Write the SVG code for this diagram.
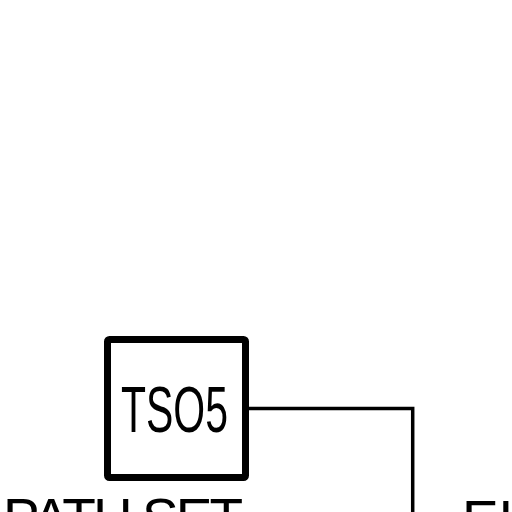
<svg xmlns="http://www.w3.org/2000/svg" width="512" height="512" viewBox="0 0 512 512">
<style>
.box{fill:#fff;stroke:#000;stroke-width:7;stroke-linejoin:round}
.lbl{font-family:"Liberation Sans",Arial,sans-serif;fill:#000}
.wire{fill:none;stroke:#000;stroke-width:3.5;stroke-linejoin:miter}
</style>
<rect width="512" height="512" fill="#fff"/>
<g id="connectors">
<polyline class="wire" points="248,408.5 412.7,408.5 412.7,512"/>
</g>
<g id="tso5">
<rect class="box" x="107.5" y="339.5" width="138" height="138" rx="2"/>
<text class="lbl" x="121" y="432" font-size="65" textLength="107" lengthAdjust="spacingAndGlyphs">TSO5</text>
</g>
<g id="path-set">
<text class="lbl" x="3" y="537" font-size="55" textLength="240" lengthAdjust="spacing">PATH SET</text>
</g>
<g id="el">
<text class="lbl" x="462" y="539" font-size="55">EL</text>
</g>
</svg>
